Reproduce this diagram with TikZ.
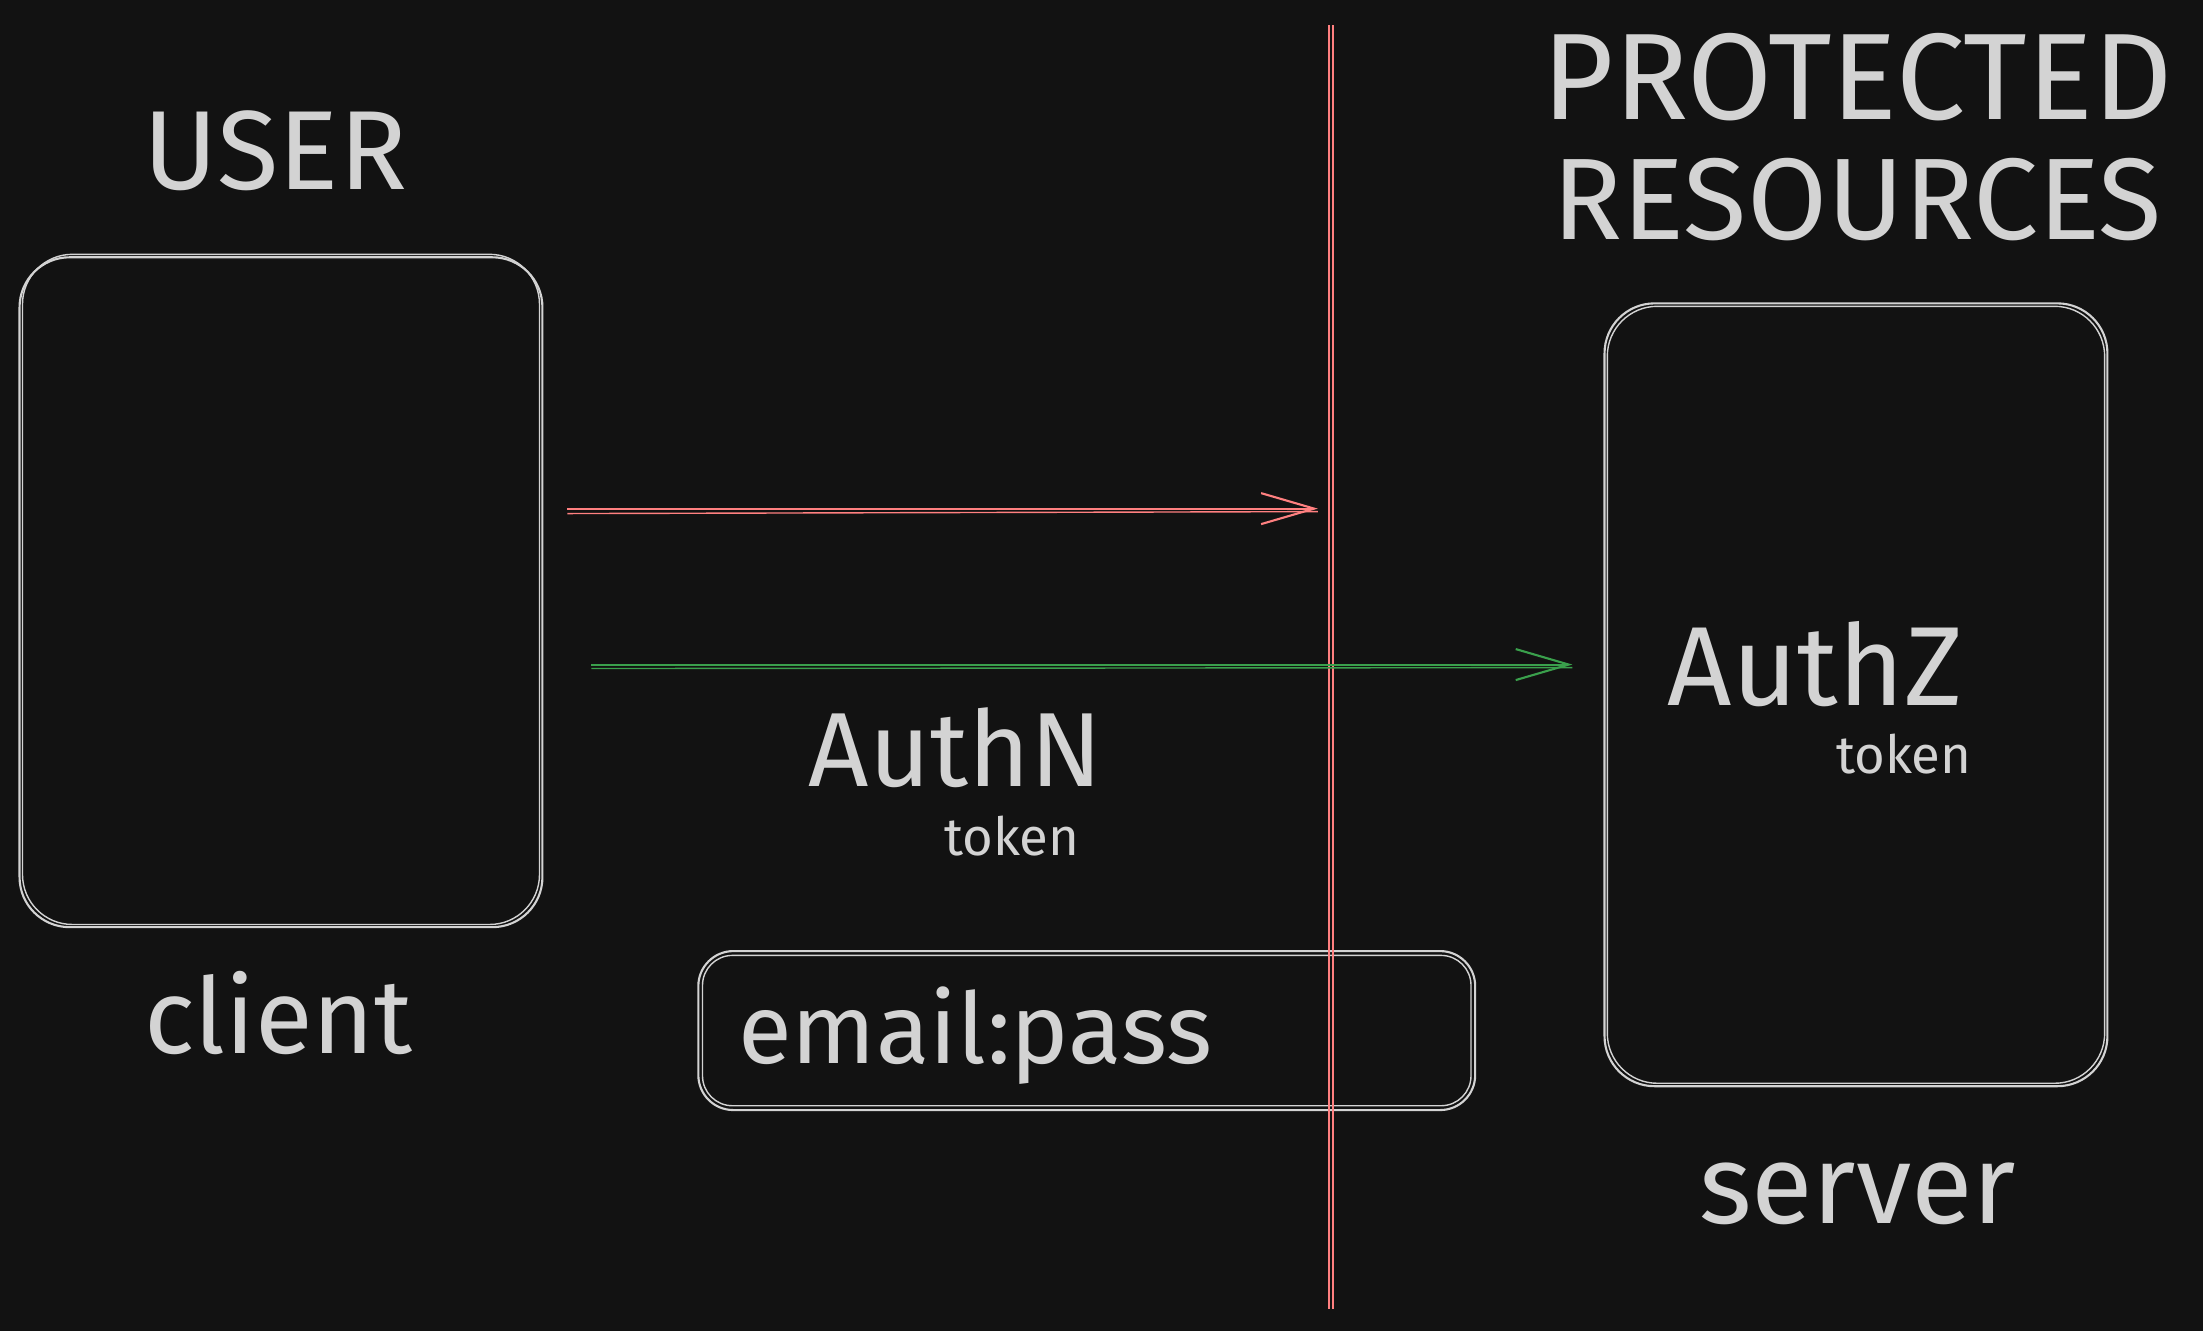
\documentclass[tikz,border=0pt]{standalone}
\usepackage{fontspec}
\setmainfont{Fira Sans}
\usetikzlibrary{arrows.meta,positioning}
\definecolor{bg}{HTML}{121212}
\definecolor{ink}{HTML}{D3D3D3}
\definecolor{wallred}{HTML}{FF8080}
\definecolor{okgreen}{HTML}{3AA04C}
\tikzset{
  txt/.style={text=ink, inner sep=0pt},
  box/.style={draw=ink, line width=0.6pt, rounded corners=0.5cm, inner sep=0pt},
  rough/.style={draw=ink, line width=0.4pt, rounded corners=0.5cm},
  wall/.style={draw=wallred, line width=0.6pt},
  tip/.style={-{Straight Barb[length=5.3mm,width=3.1mm]}, line width=0.6pt},
}
\newcommand{\fs}[1]{\fontsize{#1}{#1}\selectfont}
\begin{document}
\begin{tikzpicture}[x=0.01405cm, y=-0.01405cm]
\fill[bg] (0,0) rectangle (1568,947);
\useasboundingbox (0,0) rectangle (1568,947);

% headings
\node[txt, font=\fs{32}] (user) at (196,107) {USER};
\node[txt, font=\fs{35}] (prot) at (1322,55) {PROTECTED};
\node[txt, font=\fs{33}] (res) at (1322,142) {RESOURCES};

% boxes
\node[box, minimum width=5.23cm, minimum height=6.70cm] (client) at (200,421.5) {};
\node[box, minimum width=5.03cm, minimum height=7.83cm] (server) at (1321,494.5) {};
\node[box, minimum width=7.77cm, minimum height=1.59cm, rounded corners=0.35cm] (cred) at (773.5,733.5) {};
\draw[rough] (16,181) rectangle (384,658);
\draw[rough] (1144,218) rectangle (1498,771);
\draw[rough, rounded corners=0.3cm] (500,680) rectangle (1047,787);

% labels
\node[txt, font=\fs{30}] (clientlbl) at (198,721) {client};
\node[txt, font=\fs{32}] (serverlbl) at (1322,850) {server};
\node[txt, font=\fs{28}, anchor=west] (credlbl) at (525,737) {email:pass};
\node[txt, font=\fs{30}] (authn) at (680,532) {AuthN};
\node[txt, font=\fs{15}] (tokn) at (720,595) {token};
\node[txt, font=\fs{32}] (authz) at (1292,473) {AuthZ};
\node[txt, font=\fs{15}] (tokz) at (1355,537) {token};

% wall
\coordinate (walltop) at (946,18);
\coordinate (wallbot) at (946,932);
\draw[wall] (walltop) -- (wallbot);
\draw[wall, line width=0.4pt] ([xshift=0.4mm]walltop) -- ([xshift=0.4mm]wallbot);

% requests
\coordinate (redtip) at (938,362);
\coordinate (greentip) at (1120,473);
\draw[tip, wallred, shorten <=0.24cm] (client.east |- redtip) -- (redtip);
\draw[wallred, line width=0.4pt, shorten <=0.24cm] ([yshift=-0.5mm]client.east |- redtip) -- ([yshift=-0.3mm]redtip);
\draw[tip, okgreen, shorten <=0.48cm, shorten >=0.31cm] (client.east |- greentip) -- (server.west |- greentip);
\draw[okgreen, line width=0.4pt, shorten <=0.48cm, shorten >=0.31cm] ([yshift=-0.4mm]client.east |- greentip) -- ([yshift=-0.3mm]server.west |- greentip);
\end{tikzpicture}
\end{document}
